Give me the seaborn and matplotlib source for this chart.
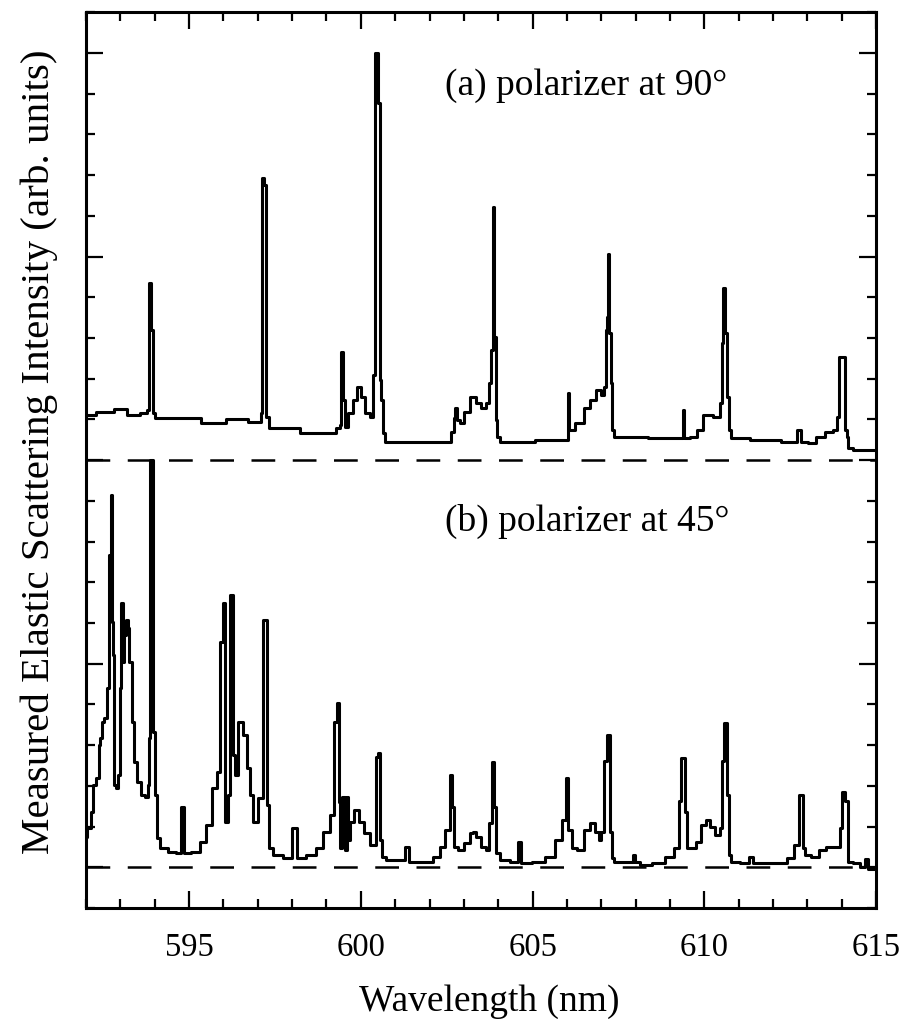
import numpy as np
import pandas as pd
import matplotlib
matplotlib.use("Agg")
import matplotlib.pyplot as plt
from matplotlib.ticker import MultipleLocator, NullFormatter
import seaborn as sns

# spectrum (a): polarizer at 90 deg, intensity above its own baseline
wl_a = [592.00, 592.58, 593.02, 593.37, 593.75, 593.80, 593.86, 593.92, 593.98, 594.04,
        594.91, 595.78, 596.37, 597.04, 597.12, 597.15, 597.21, 597.27, 597.36, 598.03,
        598.40, 599.19, 599.37, 599.42, 599.45, 599.51, 599.57, 599.69, 599.83, 599.95,
        600.06, 600.21, 600.33, 600.38, 600.47, 600.53, 600.56, 600.62, 600.65, 600.76,
        602.60, 602.66, 602.74, 602.77, 602.83, 602.92, 603.09, 603.27, 603.41, 603.56,
        603.70, 603.76, 603.82, 603.85, 603.91, 603.94, 603.99, 604.14, 606.00, 606.06,
        606.09, 606.38, 606.59, 606.76, 606.91, 607.05, 607.11, 607.14, 607.17, 607.20,
        607.25, 607.31, 607.34, 607.40, 609.35, 609.38, 609.44, 609.73, 609.87, 610.08,
        610.40, 610.49, 610.52, 610.57, 610.63, 610.69, 610.72, 610.84, 611.83, 612.64,
        612.76, 612.87, 613.16, 613.37, 613.66, 613.86, 613.89, 613.95, 614.10, 614.12,
        614.18, 614.21, 614.42, 615.00]
int_a = [1.11, 1.18, 1.25, 1.11, 1.15, 1.23, 4.35, 3.19, 1.15, 1.03,
         1.03, 0.91, 1.01, 0.93, 1.15, 6.93, 6.76, 1.06, 0.79, 0.79,
         0.66, 0.66, 0.79, 0.86, 2.65, 1.47, 0.81, 1.15, 1.47, 1.79,
         1.55, 1.15, 1.06, 2.09, 10.00, 8.77, 1.97, 1.47, 0.66, 0.44,
         0.44, 0.69, 1.03, 1.28, 0.98, 0.91, 1.18, 1.55, 1.40, 1.28,
         1.40, 1.89, 2.70, 6.22, 3.02, 0.98, 0.57, 0.44, 0.49, 1.65,
         0.74, 0.91, 1.28, 1.47, 1.72, 1.60, 1.79, 3.19, 3.51, 5.06,
         3.12, 1.89, 0.74, 0.57, 0.54, 1.23, 0.54, 0.57, 0.74, 1.11,
         1.06, 1.40, 2.87, 4.23, 3.12, 1.55, 0.74, 0.54, 0.49, 0.44,
         0.74, 0.44, 0.42, 0.57, 0.69, 0.74, 1.06, 2.53, 2.53, 0.74,
         0.57, 0.29, 0.25, 0.25]

# spectrum (b): polarizer at 45 deg
wl_b = [592.00, 592.06, 592.20, 592.23, 592.35, 592.38, 592.44, 592.49, 592.58, 592.64,
        592.67, 592.70, 592.73, 592.76, 592.79, 592.82, 592.93, 592.96, 592.99, 593.05,
        593.08, 593.14, 593.19, 593.25, 593.28, 593.37, 593.43, 593.54, 593.66, 593.75,
        593.83, 593.86, 593.89, 593.98, 594.04, 594.07, 594.24, 594.53, 594.71, 594.82,
        594.91, 595.20, 595.41, 595.58, 595.73, 595.87, 595.93, 596.02, 596.08, 596.16,
        596.25, 596.31, 596.37, 596.45, 596.51, 596.63, 596.72, 596.80, 596.95, 597.09,
        597.21, 597.30, 597.33, 597.53, 597.91, 598.06, 598.20, 598.61, 598.78, 598.99,
        599.19, 599.25, 599.34, 599.37, 599.42, 599.51, 599.57, 599.60, 599.63, 599.74,
        599.89, 600.03, 600.18, 600.33, 600.41, 600.47, 600.53, 600.59, 600.65, 600.79,
        601.23, 601.35, 601.43, 601.96, 602.22, 602.39, 602.54, 602.63, 602.68, 602.74,
        602.89, 603.09, 603.24, 603.32, 603.41, 603.56, 603.70, 603.79, 603.85, 603.91,
        603.96, 604.14, 604.55, 604.63, 604.72, 605.22, 605.51, 605.80, 605.92, 606.00,
        606.09, 606.18, 606.38, 606.59, 606.73, 606.88, 606.96, 607.05, 607.11, 607.22,
        607.28, 607.34, 607.40, 607.90, 607.95, 608.04, 608.22, 608.71, 609.00, 609.21,
        609.29, 609.38, 609.47, 609.53, 609.70, 609.84, 609.99, 610.10, 610.25, 610.40,
        610.49, 610.54, 610.63, 610.69, 610.75, 610.78, 611.27, 611.33, 611.48, 612.29,
        612.55, 612.70, 612.82, 612.90, 612.99, 613.22, 613.43, 613.63, 613.92, 613.98,
        614.04, 614.15, 614.21, 614.42, 614.62, 614.74, 614.79, 615.00]
int_b = [0.74, 0.96, 1.35, 2.01, 2.19, 3.00, 3.17, 3.56, 3.66, 4.40,
         7.67, 6.36, 9.14, 6.02, 5.21, 2.01, 1.94, 2.26, 4.40, 6.49,
         5.04, 5.70, 6.07, 5.87, 5.04, 3.56, 2.58, 2.09, 1.77, 1.72,
         2.01, 3.17, 10.00, 3.32, 1.77, 0.71, 0.47, 0.37, 0.34, 1.47,
         0.34, 0.37, 0.61, 1.03, 1.94, 2.33, 5.53, 6.49, 1.11, 1.77,
         6.68, 2.75, 2.26, 3.56, 3.56, 3.24, 2.43, 1.77, 1.11, 1.70,
         6.07, 1.52, 0.47, 0.29, 0.22, 0.96, 0.22, 0.29, 0.47, 0.86,
         1.28, 3.56, 4.03, 1.60, 0.47, 1.72, 0.42, 1.72, 0.66, 1.11,
         1.40, 1.11, 0.84, 0.54, 0.54, 2.70, 2.80, 0.66, 0.25, 0.17,
         0.17, 0.49, 0.12, 0.12, 0.25, 0.49, 0.91, 2.26, 1.47, 0.49,
         0.42, 0.59, 0.84, 0.86, 0.74, 0.49, 0.42, 1.08, 2.58, 1.47,
         0.34, 0.17, 0.12, 0.61, 0.10, 0.12, 0.25, 0.66, 1.15, 2.19,
         0.91, 0.47, 0.42, 0.91, 1.08, 0.86, 0.66, 0.86, 2.60, 3.24,
         0.86, 0.22, 0.12, 0.12, 0.29, 0.12, 0.05, 0.10, 0.25, 0.47,
         1.62, 2.68, 1.35, 0.47, 0.47, 0.61, 1.03, 1.15, 0.98, 0.79,
         0.96, 2.60, 3.54, 1.77, 0.29, 0.12, 0.10, 0.25, 0.10, 0.10,
         0.22, 0.54, 1.77, 0.47, 0.29, 0.25, 0.42, 0.49, 0.49, 0.96,
         1.84, 1.62, 0.12, 0.10, 0.00, 0.20, -0.05, -0.05]

labels = ["(a) polarizer at 90\u00b0", "(b) polarizer at 45\u00b0"]
offset_a = 10.0   # vertical shift of trace (a)

df = pd.concat([
    pd.DataFrame({"wl": wl_a, "y": np.array(int_a) + offset_a, "panel": "a"}),
    pd.DataFrame({"wl": wl_b, "y": np.array(int_b), "panel": "b"}),
], ignore_index=True)

sns.set_theme(style="ticks")
plt.rcParams['font.family'] = ['Liberation Serif', 'DejaVu Serif']
plt.rcParams['text.color'] = 'black'
plt.rcParams['axes.labelcolor'] = 'black'

fig = plt.figure(figsize=(9, 10.19), dpi=100)
ax = fig.add_axes([0.0956, 0.109, 0.8778, 0.879])

sns.lineplot(data=df, x="wl", y="y", units="panel", estimator=None, sort=False,
             color="black", lw=2.2, drawstyle="steps-mid", ax=ax, legend=False)

# baselines
for base in (0.0, offset_a):
    ax.axhline(base, color="black", lw=1.8, dashes=(9.5, 7.0))

ax.set_xlim(592, 615)
ax.set_ylim(-1, 21)
ax.xaxis.set_major_locator(MultipleLocator(5))
ax.xaxis.set_minor_locator(MultipleLocator(1))
ax.yaxis.set_major_locator(MultipleLocator(5))
ax.yaxis.set_minor_locator(MultipleLocator(1))
ax.yaxis.set_major_formatter(NullFormatter())
ax.tick_params(which="both", direction="in", top=True, right=True,
               width=1.6, colors="black", labelsize=23.5, pad=18)
ax.tick_params(which="major", length=12)
ax.tick_params(which="minor", length=6.5)
for sp in ax.spines.values():
    sp.set_linewidth(2.2)
    sp.set_color("black")

ax.set_xlabel("Wavelength (nm)", fontsize=27, color="black")
ax.xaxis.set_label_coords(0.51, -0.085)
ax.set_ylabel("Measured Elastic Scattering Intensity (arb. units)", fontsize=29.5, color="black")
ax.yaxis.set_label_coords(-0.035, 0.509)

ax.text(602.45, 19.2, labels[0], fontsize=27, va="center", ha="left", color="black")
ax.text(602.45, 8.5, labels[1], fontsize=27, va="center", ha="left", color="black")

fig.savefig("out.png", dpi=100)
